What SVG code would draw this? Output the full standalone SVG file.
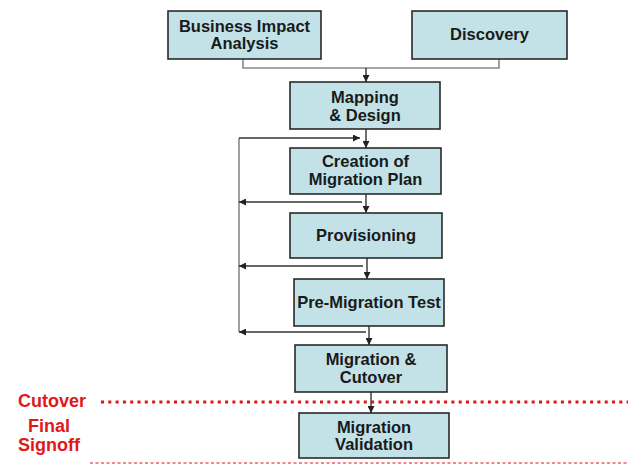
<svg xmlns="http://www.w3.org/2000/svg" width="628" height="465" viewBox="0 0 628 465">
<defs>
<marker id="ah" viewBox="0 0 8 8" refX="8" refY="4" markerWidth="7" markerHeight="7" markerUnits="userSpaceOnUse" orient="auto">
<path d="M0,0 L8,4 L0,8 Z" fill="#222"/>
</marker>
</defs>
<style>
.box{fill:#c2e2e8;stroke:#2a2a2a;stroke-width:1.6}
.t{font-family:"Liberation Sans",Arial,sans-serif;font-weight:bold;font-size:16.5px;fill:#1a1a1a;text-anchor:middle}
.r{font-family:"Liberation Sans",Arial,sans-serif;font-weight:bold;font-size:18px;fill:#e01818;text-anchor:middle}
.c{fill:none;stroke:#333;stroke-width:1.4}
.g{fill:none;stroke:#888;stroke-width:1.6}
</style>
<rect width="628" height="465" fill="#fff"/>
<g id="connectors">
<path class="g" d="M243,59 V68 H499 V59"/>
<path class="c" d="M366,68 V82" marker-end="url(#ah)"/>
<path class="c" d="M366,129 V148" marker-end="url(#ah)"/>
<path class="g" d="M239,332 V138"/>
<path class="c" d="M239,138 H360" marker-end="url(#ah)"/>
<path class="c" d="M366,194 V213" marker-end="url(#ah)"/>
<path class="c" d="M362,202 H239" marker-end="url(#ah)"/>
<path class="c" d="M367,258 V279" marker-end="url(#ah)"/>
<path class="c" d="M363,266 H239" marker-end="url(#ah)"/>
<path class="c" d="M369,326 V345" marker-end="url(#ah)"/>
<path class="c" d="M366,332 H239" marker-end="url(#ah)"/>
<path class="c" d="M371,392 V413" marker-end="url(#ah)"/>
</g>
<g id="bia"><rect class="box" x="168" y="11" width="153" height="48"/><text class="t" x="244.5" y="32">Business Impact</text><text class="t" x="244.5" y="49">Analysis</text></g>
<g id="discovery"><rect class="box" x="412" y="11" width="155" height="48"/><text class="t" x="489.5" y="40">Discovery</text></g>
<g id="mapping"><rect class="box" x="290" y="82" width="150" height="47"/><text class="t" x="365" y="103">Mapping</text><text class="t" x="365" y="121">&amp; Design</text></g>
<g id="creation"><rect class="box" x="290" y="148" width="151" height="46"/><text class="t" x="365.5" y="167">Creation of</text><text class="t" x="365.5" y="185">Migration Plan</text></g>
<g id="provisioning"><rect class="box" x="290" y="213" width="152" height="45"/><text class="t" x="366" y="241">Provisioning</text></g>
<g id="premigration"><rect class="box" x="294" y="279" width="150" height="47"/><text class="t" x="369" y="308">Pre-Migration Test</text></g>
<g id="cutover"><rect class="box" x="295" y="345" width="152" height="47"/><text class="t" x="371" y="365">Migration &amp;</text><text class="t" x="371" y="383">Cutover</text></g>
<g id="validation"><rect class="box" x="299" y="413" width="150" height="45"/><text class="t" x="374" y="433">Migration</text><text class="t" x="374" y="450">Validation</text></g>
<g id="phases">
<line x1="101" y1="402" x2="628" y2="402" stroke="#dd1515" stroke-width="3" stroke-dasharray="3 4.3"/>
<line x1="90" y1="463" x2="628" y2="463" stroke="#f06060" stroke-width="1.6" stroke-dasharray="3 2.5"/>
<text class="r" x="52" y="407">Cutover</text>
<text class="r" x="49" y="432">Final</text>
<text class="r" x="49" y="451">Signoff</text>
</g>
</svg>
